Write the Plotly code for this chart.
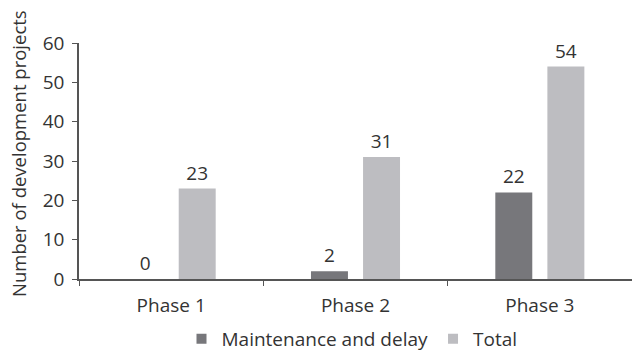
import plotly.graph_objects as go

categories = ["Phase 1", "Phase 2", "Phase 3"]
maintenance = [0, 2, 22]
total = [23, 31, 54]
series_names = ["Maintenance and delay", "Total"]
colors = ["#77777b", "#bdbdc1"]
y_ticks = [0, 10, 20, 30, 40, 50, 60]

FONT = "Open Sans"
TXT = "#333333"
FS = 19

fig = go.Figure()
for name, vals, col in zip(series_names, [maintenance, total], colors):
    fig.add_trace(go.Bar(
        x=categories, y=vals, name=name, marker=dict(color=col, line=dict(width=0)),
        text=[str(v) for v in vals], textposition="outside", cliponaxis=False,
        textfont=dict(family=FONT, size=FS, color=TXT), showlegend=False,
    ))
    fig.add_trace(go.Scatter(
        x=[None], y=[None], mode="markers", name=name,
        marker=dict(symbol="square", size=10, color=col), showlegend=True,
    ))

fig.update_layout(
    width=632, height=351,
    margin=dict(l=79, r=0, t=43, b=72, autoexpand=False),
    paper_bgcolor="white", plot_bgcolor="white",
    barmode="group", bargap=0.435, bargroupgap=0.29,
    font=dict(family=FONT, size=FS, color=TXT),
    showlegend=True,
    legend=dict(orientation="h", x=(352 - 79) / 553, xanchor="center",
                yref="container", y=(351 - 339) / 351, yanchor="middle",
                font=dict(family=FONT, size=FS, color=TXT), itemwidth=30,
                traceorder="normal"),
    annotations=[dict(text="Number of development projects", textangle=-90,
                      xref="paper", yref="paper", x=(18 - 79) / 553,
                      y=(279 - 154) / 236,
                      xanchor="center", yanchor="middle", showarrow=False,
                      font=dict(family=FONT, size=18.5, color=TXT))],
)
fig.update_xaxes(showline=True, linecolor="#555555", linewidth=1.5, ticks="outside",
                 tickson="boundaries", ticklen=5, tickcolor="#555555",
                 ticklabelstandoff=8, automargin=False,
                 showgrid=False, tickfont=dict(family=FONT, size=FS, color=TXT))
fig.update_yaxes(range=[0, 60], tickvals=y_ticks, showline=True, linecolor="#555555",
                 linewidth=1.5, ticks="outside", ticklen=5, tickcolor="#555555",
                 ticklabelstandoff=4, automargin=False,
                 showgrid=False, zeroline=False,
                 tickfont=dict(family=FONT, size=FS, color=TXT))

fig.write_html("out.html")
